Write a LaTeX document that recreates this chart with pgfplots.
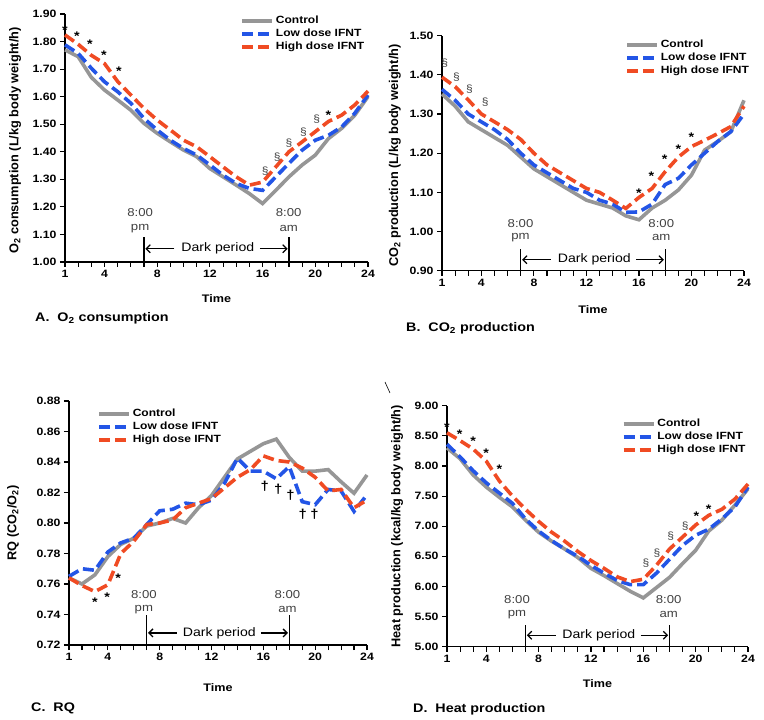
\documentclass[border=0pt]{standalone}
\usepackage{fontspec}
\setmainfont{Liberation Sans}[FakeStretch=1.15]
\setsansfont{Liberation Sans}[FakeStretch=1.15]
\newfontfamily\ylfont{Liberation Sans}
\usepackage{pgfplots}
\pgfplotsset{compat=1.18}
\usetikzlibrary{arrows.meta}
\definecolor{ctrlgray}{RGB}{150,150,150}
\definecolor{lowblue}{RGB}{35,85,230}
\definecolor{highred}{RGB}{240,75,35}
\definecolor{txtgray}{RGB}{65,65,65}
\pgfplotsset{
 panel/.style={
  scale only axis, axis lines*=left,
  axis line style={line width=1.3bp,-},
  xmin=1, xmax=24, xtick={1,4,8,12,16,20,24}, minor xtick={1,...,24},
  tick align=outside, tick style={line width=1.1bp,black},
  major tick length=5bp, minor tick length=5bp,
  ticklabel style={font=\fontsize{10.7}{11}\selectfont\bfseries},
  /pgf/number format/assume math mode=true,
  yticklabel style={/pgf/number format/.cd, fixed, fixed zerofill, precision=2},
  ylabel style={font=\ylfont\fontsize{12.8}{13}\selectfont\bfseries, anchor=center},
  xlabel style={font=\fontsize{11}{12}\selectfont\bfseries, anchor=center},
  xlabel={Time},
  legend style={draw=none, fill=none, font=\fontsize{10.5}{11}\selectfont\bfseries,
    row sep=0bp, inner sep=0pt, cells={anchor=west}},
  legend image code/.code={\draw[##1] (0bp,0bp) -- (30bp,0bp);},
  clip=false,
 },
 ctrl/.style={color=ctrlgray, line width=3.6bp, solid},
 low/.style={color=lowblue, line width=3.6bp, dash pattern=on 11bp off 5bp},
 high/.style={color=highred, line width=3.6bp, dash pattern=on 11bp off 5bp},
}
\tikzset{
 ast/.style={font=\fontsize{12.5}{12.5}\selectfont\bfseries, yshift=-2.5bp, inner sep=0pt},
 sect/.style={font=\fontsize{10.5}{10.5}\selectfont, text=txtgray, inner sep=0pt},
 dag/.style={font=\fontsize{13}{13}\selectfont\bfseries, inner sep=0pt},
 clk/.style={font=\fontsize{11.5}{11.5}\selectfont, text=txtgray, inner sep=0pt},
 dark/.style={font=\fontsize{12.3}{13}\selectfont, inner sep=0pt},
}
\newcommand{\darkperiod}[3]{% ymin, linetop, arrowy
  \draw[line width=1.3bp] (axis cs:7,#1) -- (axis cs:7,#2);
  \draw[line width=1.3bp] (axis cs:18,#1) -- (axis cs:18,#2);
  \draw[line width=1.3bp,-{Straight Barb[length=4bp,width=8bp]}] (axis cs:9.3,#3) -- (axis cs:7.1,#3);
  \draw[line width=1.3bp,-{Straight Barb[length=4bp,width=8bp]}] (axis cs:15.8,#3) -- (axis cs:17.9,#3);
  \node[dark] at (axis cs:12.6,#3) {Dark period};
}
\begin{document}
\begin{tikzpicture}
\useasboundingbox (0,0) rectangle (764bp,720bp);
% ---------------- A
\begin{axis}[panel, at={(65bp,458bp)}, anchor=south west, width=303bp, height=248bp,
  ymin=1.0, ymax=1.9, ytick={1.0,1.1,...,1.95},
  ylabel={O\textsubscript{2} consumption (L/kg body weight/h)},
  ylabel style={at={(axis description cs:-0.165,0.49)}},
  xlabel style={at={(axis description cs:0.5,-0.149)}},
  legend style={at={(0.578,1.0)}, anchor=north west}]
\addplot[ctrl] coordinates {(1,1.77)(2,1.745)(3,1.67)(4,1.624)(5,1.588)(6,1.551)(7,1.503)(8,1.467)(9,1.436)(10,1.406)(11,1.382)(12,1.339)(13,1.309)(14,1.279)(15,1.248)(16,1.212)(17,1.26)(18,1.309)(19,1.352)(20,1.388)(21,1.448)(22,1.485)(23,1.533)(24,1.60)};
\addplot[low] coordinates {(1,1.788)(2,1.757)(3,1.703)(4,1.654)(5,1.618)(6,1.576)(7,1.521)(8,1.479)(9,1.442)(10,1.412)(11,1.388)(12,1.352)(13,1.315)(14,1.285)(15,1.267)(16,1.26)(17,1.309)(18,1.358)(19,1.406)(20,1.442)(21,1.46)(22,1.49)(23,1.54)(24,1.606)};
\addplot[high] coordinates {(1,1.824)(2,1.79)(3,1.75)(4,1.72)(5,1.655)(6,1.606)(7,1.557)(8,1.515)(9,1.479)(10,1.442)(11,1.418)(12,1.382)(13,1.345)(14,1.309)(15,1.279)(16,1.29)(17,1.345)(18,1.40)(19,1.436)(20,1.473)(21,1.51)(22,1.533)(23,1.57)(24,1.62)};
\legend{Control, Low dose IFNT, High dose IFNT}
\darkperiod{1.0}{1.09}{1.048}
\node[clk] at (axis cs:6.7,1.18) {8:00};
\node[clk] at (axis cs:6.7,1.12) {pm};
\node[clk] at (axis cs:17.98,1.18) {8:00};
\node[clk] at (axis cs:17.98,1.12) {am};
\node[ast] at (axis cs:1,1.85) {*};
\node[ast] at (axis cs:1.9,1.83) {*};
\node[ast] at (axis cs:2.9,1.80) {*};
\node[ast] at (axis cs:3.95,1.76) {*};
\node[ast] at (axis cs:5.1,1.70) {*};
\node[sect] at (axis cs:16.2,1.33) {§};
\node[sect] at (axis cs:17.1,1.38) {§};
\node[sect] at (axis cs:18,1.43) {§};
\node[sect] at (axis cs:19.1,1.47) {§};
\node[sect] at (axis cs:20.1,1.52) {§};
\node[ast] at (axis cs:21,1.54) {*};
\end{axis}
% ---------------- B
\begin{axis}[panel, at={(442bp,449.3bp)}, anchor=south west, width=302bp, height=235bp,
  ymin=0.9, ymax=1.5, ytick={0.9,1.0,...,1.55},
  ylabel={CO\textsubscript{2} production (L/kg body weight/h)},
  ylabel style={at={(axis description cs:-0.156,0.49)}},
  xlabel style={at={(axis description cs:0.5,-0.167)}},
  legend style={at={(0.606,0.99)}, anchor=north west}]
\addplot[ctrl] coordinates {(1,1.351)(2,1.32)(3,1.28)(4,1.26)(5,1.24)(6,1.22)(7,1.19)(8,1.16)(9,1.14)(10,1.12)(11,1.10)(12,1.08)(13,1.07)(14,1.06)(15,1.04)(16,1.03)(17,1.06)(18,1.08)(19,1.106)(20,1.144)(21,1.208)(22,1.23)(23,1.255)(24,1.335)};
\addplot[low] coordinates {(1,1.363)(2,1.335)(3,1.30)(4,1.28)(5,1.26)(6,1.235)(7,1.20)(8,1.17)(9,1.15)(10,1.13)(11,1.11)(12,1.10)(13,1.08)(14,1.07)(15,1.049)(16,1.05)(17,1.07)(18,1.12)(19,1.136)(20,1.17)(21,1.20)(22,1.23)(23,1.255)(24,1.30)};
\addplot[high] coordinates {(1,1.394)(2,1.37)(3,1.336)(4,1.30)(5,1.28)(6,1.26)(7,1.235)(8,1.20)(9,1.17)(10,1.15)(11,1.13)(12,1.11)(13,1.10)(14,1.08)(15,1.059)(16,1.087)(17,1.11)(18,1.153)(19,1.19)(20,1.217)(21,1.233)(22,1.25)(23,1.268)(24,1.32)};
\legend{Control, Low dose IFNT, High dose IFNT}
\darkperiod{0.9}{0.956}{0.928}
\node[clk] at (axis cs:6.98,1.02) {8:00};
\node[clk] at (axis cs:6.98,0.985) {pm};
\node[clk] at (axis cs:17.7,1.02) {8:00};
\node[clk] at (axis cs:17.7,0.985) {am};
\node[sect] at (axis cs:1.2,1.43) {§};
\node[sect] at (axis cs:2.1,1.394) {§};
\node[sect] at (axis cs:3.1,1.363) {§};
\node[sect] at (axis cs:4.3,1.33) {§};
\node[ast] at (axis cs:16,1.105) {*};
\node[ast] at (axis cs:16.95,1.147) {*};
\node[ast] at (axis cs:17.95,1.19) {*};
\node[ast] at (axis cs:19,1.217) {*};
\node[ast] at (axis cs:20,1.246) {*};
\end{axis}
% ---------------- C
\begin{axis}[panel, at={(69bp,75bp)}, anchor=south west, width=298bp, height=244bp,
  ymin=0.72, ymax=0.88, ytick={0.72,0.74,...,0.885},
  ylabel={RQ (CO\textsubscript{2}/O\textsubscript{2})},
  ylabel style={at={(axis description cs:-0.188,0.5)}},
  xlabel style={at={(axis description cs:0.5,-0.176)}},
  legend style={at={(0.094,0.975)}, anchor=north west}]
\addplot[ctrl] coordinates {(1,0.764)(2,0.760)(3,0.766)(4,0.778)(5,0.786)(6,0.790)(7,0.798)(8,0.800)(9,0.803)(10,0.800)(11,0.810)(12,0.818)(13,0.830)(14,0.842)(15,0.847)(16,0.852)(17,0.855)(18,0.843)(19,0.834)(20,0.834)(21,0.835)(22,0.827)(23,0.8195)(24,0.8315)};
\addplot[low] coordinates {(1,0.765)(2,0.770)(3,0.769)(4,0.781)(5,0.787)(6,0.790)(7,0.799)(8,0.808)(9,0.809)(10,0.813)(11,0.812)(12,0.815)(13,0.826)(14,0.8425)(15,0.834)(16,0.834)(17,0.829)(18,0.837)(19,0.814)(20,0.812)(21,0.822)(22,0.821)(23,0.8076)(24,0.8185)};
\addplot[high] coordinates {(1,0.764)(2,0.759)(3,0.755)(4,0.7595)(5,0.780)(6,0.788)(7,0.799)(8,0.800)(9,0.802)(10,0.810)(11,0.813)(12,0.816)(13,0.823)(14,0.830)(15,0.835)(16,0.844)(17,0.841)(18,0.840)(19,0.836)(20,0.830)(21,0.821)(22,0.822)(23,0.810)(24,0.815)};
\legend{Control, Low dose IFNT, High dose IFNT}
\darkperiod{0.72}{0.7399}{0.7279}
\node[clk] at (axis cs:6.78,0.753) {8:00};
\node[clk] at (axis cs:6.78,0.7432) {pm};
\node[clk] at (axis cs:17.86,0.753) {8:00};
\node[clk] at (axis cs:17.86,0.7432) {am};
\node[ast] at (axis cs:3,0.750) {*};
\node[ast] at (axis cs:3.95,0.753) {*};
\node[ast] at (axis cs:4.8,0.7655) {*};
\node[dag] at (axis cs:16.1,0.824) {†};
\node[dag] at (axis cs:17.15,0.822) {†};
\node[dag] at (axis cs:18.1,0.818) {†};
\node[dag] at (axis cs:19.05,0.8055) {†};
\node[dag] at (axis cs:19.95,0.8055) {†};
\end{axis}
% ---------------- D
\begin{axis}[panel, at={(447bp,73.3bp)}, anchor=south west, width=301bp, height=241bp,
  ymin=5, ymax=9, ytick={5,5.5,...,9.1},
  ylabel={Heat production (kcal/kg body weight/h)},
  ylabel style={at={(axis description cs:-0.166,0.5)}},
  xlabel style={at={(axis description cs:0.5,-0.151)}},
  legend style={at={(0.58,0.953)}, anchor=north west}]
\addplot[ctrl] coordinates {(1,8.30)(2,8.12)(3,7.85)(4,7.65)(5,7.48)(6,7.32)(7,7.10)(8,6.90)(9,6.75)(10,6.62)(11,6.48)(12,6.30)(13,6.18)(14,6.05)(15,5.92)(16,5.81)(17,5.98)(18,6.15)(19,6.38)(20,6.60)(21,6.92)(22,7.10)(23,7.35)(24,7.62)};
\addplot[low] coordinates {(1,8.36)(2,8.15)(3,7.92)(4,7.72)(5,7.55)(6,7.38)(7,7.12)(8,6.92)(9,6.76)(10,6.62)(11,6.50)(12,6.35)(13,6.22)(14,6.10)(15,6.03)(16,6.03)(17,6.22)(18,6.45)(19,6.68)(20,6.85)(21,6.95)(22,7.12)(23,7.32)(24,7.65)};
\addplot[high] coordinates {(1,8.55)(2,8.42)(3,8.28)(4,8.08)(5,7.75)(6,7.50)(7,7.28)(8,7.08)(9,6.90)(10,6.75)(11,6.58)(12,6.43)(13,6.30)(14,6.16)(15,6.08)(16,6.12)(17,6.35)(18,6.62)(19,6.82)(20,7.02)(21,7.18)(22,7.28)(23,7.45)(24,7.70)};
\legend{Control, Low dose IFNT, High dose IFNT}
\darkperiod{5}{5.36}{5.19}
\node[clk] at (axis cs:6.35,5.78) {8:00};
\node[clk] at (axis cs:6.35,5.53) {pm};
\node[clk] at (axis cs:17.94,5.78) {8:00};
\node[clk] at (axis cs:17.94,5.53) {am};
\node[ast] at (axis cs:1,8.68) {*};
\node[ast] at (axis cs:1.97,8.57) {*};
\node[ast] at (axis cs:3,8.45) {*};
\node[ast] at (axis cs:4,8.25) {*};
\node[ast] at (axis cs:5,7.99) {*};
\node[sect] at (axis cs:16.2,6.38) {§};
\node[sect] at (axis cs:17.05,6.55) {§};
\node[sect] at (axis cs:18.1,6.83) {§};
\node[sect] at (axis cs:19.2,7.0) {§};
\node[ast] at (axis cs:20.05,7.20) {*};
\node[ast] at (axis cs:21,7.33) {*};
\end{axis}
% titles
\node[anchor=base west, font=\fontsize{12.5}{13}\selectfont\bfseries, inner sep=0pt] at (35bp,398bp) {A.\ \ O\textsubscript{2} consumption};
\node[anchor=base west, font=\fontsize{12.5}{13}\selectfont\bfseries, inner sep=0pt] at (406bp,388bp) {B.\ \ CO\textsubscript{2} production};
\node[anchor=base west, font=\fontsize{12.5}{13}\selectfont\bfseries, inner sep=0pt] at (31bp,9bp) {C.\ \ RQ};
\node[anchor=base west, font=\fontsize{12.5}{13}\selectfont\bfseries, inner sep=0pt] at (413bp,8bp) {D.\ \ Heat production};
\draw[line width=0.6bp] (385bp,338bp) -- (390bp,327bp);
\end{tikzpicture}
\end{document}
